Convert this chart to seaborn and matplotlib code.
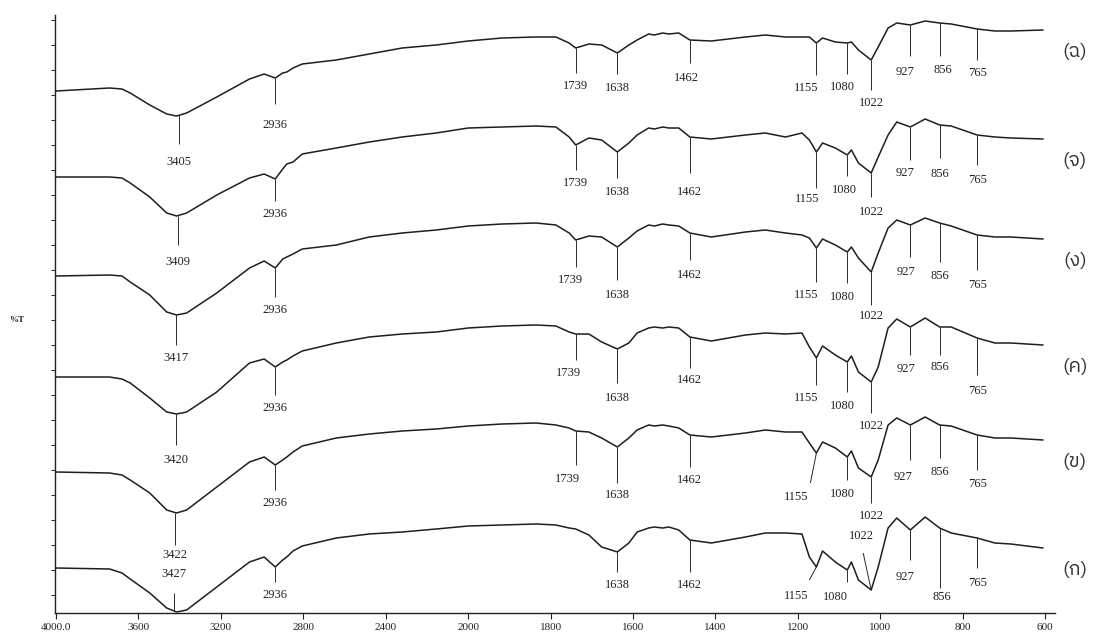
import numpy as np
import pandas as pd
import matplotlib
matplotlib.use("Agg")
import matplotlib.pyplot as plt
import seaborn as sns
from matplotlib import font_manager as fm
from matplotlib.ft2font import FT2Font
from matplotlib.transforms import blended_transform_factory

# ---------------- data ----------------
WAVENUMBER = [4000, 3740, 3680, 3640, 3545, 3463, 3415, 3366, 3220, 3061,
              2990, 2936, 2900, 2880, 2850, 2805, 2640, 2480, 2320, 2155,
              2000, 1918, 1835, 1787, 1755, 1739, 1707, 1676, 1638, 1610,
              1590, 1562, 1548, 1528, 1513, 1489, 1462, 1410, 1327, 1279,
              1230, 1190, 1172, 1155, 1140, 1109, 1080, 1070, 1053, 1022,
              1005, 981, 960, 927, 891, 856, 828, 765, 722, 683, 605]

SAMPLES = ["(ฉ)", "(จ)", "(ง)", "(ค)", "(ข)", "(ก)"]

T_CHO = [522, 525, 524, 520, 508, 499, 497, 500, 516, 534,
         539, 535, 540, 541, 545, 549, 553, 559, 565, 568,
         572, 575, 576, 576, 570, 565, 569, 568, 560, 568,
         573, 579, 578, 580, 579, 580, 573, 572, 576, 578,
         576, 576, 576, 570, 575, 571, 570, 571, 563, 553,
         566, 585, 590, 588, 592, 590, 589, 584, 582, 582, 583]
T_JO = [436, 436, 435, 430, 416, 400, 397, 400, 418, 435,
        439, 434, 444, 449, 451, 459, 465, 471, 476, 480,
        485, 486, 487, 486, 476, 468, 475, 473, 461, 470,
        478, 485, 484, 486, 485, 485, 476, 474, 478, 480,
        476, 480, 473, 461, 470, 465, 458, 463, 450, 440,
        456, 478, 491, 486, 494, 488, 487, 478, 476, 475, 474]
T_NGO = [337, 338, 337, 331, 318, 301, 298, 300, 320, 345,
         352, 345, 354, 356, 359, 364, 368, 376, 380, 383,
         387, 389, 390, 388, 380, 373, 377, 376, 366, 375,
         382, 388, 387, 389, 388, 387, 380, 376, 381, 383,
         380, 378, 375, 365, 374, 368, 361, 366, 355, 341,
         360, 385, 393, 388, 395, 390, 387, 378, 376, 376, 374]
T_KHO2 = [236, 236, 234, 230, 215, 201, 199, 201, 221, 250,
          254, 246, 251, 253, 257, 262, 270, 276, 279, 281,
          285, 287, 288, 287, 281, 279, 279, 271, 264, 270,
          280, 285, 286, 285, 286, 285, 276, 272, 278, 280,
          279, 280, 266, 255, 267, 258, 251, 257, 241, 231,
          246, 285, 294, 286, 295, 286, 286, 275, 270, 270, 268]
T_KHO = [141, 140, 138, 133, 120, 103, 100, 103, 126, 151,
         156, 148, 153, 156, 161, 167, 175, 179, 182, 184,
         187, 189, 190, 188, 185, 182, 181, 175, 166, 175,
         183, 188, 187, 188, 187, 185, 178, 176, 180, 183,
         181, 181, 170, 160, 171, 165, 156, 162, 145, 136,
         153, 188, 195, 188, 196, 188, 187, 178, 175, 175, 173]
T_KO = [45, 44, 40, 34, 20, 5, 1, 3, 26, 51,
        56, 46, 53, 56, 62, 67, 75, 79, 81, 84,
        87, 88, 89, 88, 85, 84, 78, 66, 61, 70,
        81, 85, 86, 85, 86, 83, 73, 70, 76, 80,
        80, 79, 56, 46, 62, 51, 43, 51, 33, 23,
        46, 85, 95, 83, 96, 85, 80, 75, 70, 69, 65]

SERIES = [T_CHO, T_JO, T_NGO, T_KHO2, T_KHO, T_KO]

PEAKS = {
    "(ฉ)": [3405, 2936, 1739, 1638, 1462, 1155, 1080, 1022, 927, 856, 765],
    "(จ)": [3409, 2936, 1739, 1638, 1462, 1155, 1080, 1022, 927, 856, 765],
    "(ง)": [3417, 2936, 1739, 1638, 1462, 1155, 1080, 1022, 927, 856, 765],
    "(ค)": [3420, 2936, 1739, 1638, 1462, 1155, 1080, 1022, 927, 856, 765],
    "(ข)": [3422, 2936, 1739, 1638, 1462, 1155, 1080, 1022, 927, 856, 765],
    "(ก)": [3427, 2936, 1638, 1462, 1155, 1080, 1022, 927, 856, 765],
}

X_TICKS = [4000, 3600, 3200, 2800, 2400, 2000, 1800, 1600, 1400, 1200, 1000, 800, 600]
X_TICK_LABELS = ["4000.0", "3600", "3200", "2800", "2400", "2000", "1800",
                 "1600", "1400", "1200", "1000", "800", "600"]

# ---------------- layout of peak annotations (pixels) ----------------
# (line length, text drop, text dx, line end dx); negative = upwards
ANN_LAYOUT = {
    "(ฉ)": [(29, 47, 0, 0), (26, 47, 0, 0), (25, 38, 0, 0), (21, 35, 0, 0), (23, 38, -3, 0),
            (32, 45, -10, 0), (31, 44, -5, 0), (30, 43, 0, 0), (31, 47, -5, 0), (33, 47, 3, 0), (31, 44, 0, 0)],
    "(จ)": [(29, 46, 0, 0), (22, 35, 0, 0), (25, 38, 0, 0), (26, 40, 0, 0), (36, 55, 0, 0),
            (36, 47, -9, 0), (21, 35, -3, 0), (24, 39, 0, 0), (33, 46, -5, 0), (33, 49, 0, 0), (30, 45, 0, 0)],
    "(ง)": [(30, 43, 0, 0), (29, 42, 0, 0), (27, 40, -5, 0), (33, 48, 0, 0), (27, 42, 0, 0),
            (34, 47, -10, 0), (31, 45, -5, 0), (33, 44, 0, 0), (32, 47, -4, 0), (39, 53, 0, 0), (35, 50, 0, 0)],
    "(ค)": [(31, 46, 0, 0), (28, 41, 0, 0), (26, 39, -7, 0), (34, 49, 0, 0), (31, 43, 0, 0),
            (27, 40, -10, 0), (30, 44, -5, 0), (31, 44, 0, 0), (28, 42, -4, 0), (28, 40, 0, 0), (37, 53, 0, 0)],
    "(ข)": [(32, 42, 0, 0), (25, 38, 0, 0), (34, 48, -8, 0), (36, 48, 0, 0), (32, 45, 0, 0),
            (30, 44, -20, -6), (23, 37, -5, 0), (26, 39, 0, 0), (35, 52, -7, 0), (33, 47, 0, 0), (35, 49, 0, 0)],
    "(ก)": [(-18, -37, 0, 0), (15, 28, 0, 0), (20, 33, 0, 0), (32, 45, 0, 0),
            (13, 29, -20, -7), (12, 27, -12, 0), (-37, -54, -10, -8), (30, 47, -5, 0), (60, 69, 2, 0), (30, 45, 0, 0)],
}

# ---------------- fonts ----------------
def find_font(ch, prefer=("Thai",)):
    hits = []
    for f in fm.fontManager.ttflist:
        try:
            if ord(ch) in FT2Font(f.fname).get_charmap():
                hits.append(f.name)
        except Exception:
            pass
    for p in prefer:
        for h in hits:
            if p in h:
                return h
    return hits[0] if hits else "DejaVu Sans"

sns.set_theme(style="ticks")
plt.rcParams["font.family"] = ["Liberation Serif", "DejaVu Serif"]
THAI_FONT = find_font("ฉ")

# ---------------- figure ----------------
W, H = 1093, 640
fig = plt.figure(figsize=(W / 100, H / 100), dpi=100)
ax_left, ax_bottom, ax_w, ax_h = 55, 27, 1000, 598
ax = fig.add_axes([ax_left / W, ax_bottom / H, ax_w / W, ax_h / H])

frames = []
for name, vals in zip(SAMPLES, SERIES):
    frames.append(pd.DataFrame({"wavenumber": WAVENUMBER, "T": vals, "sample": name}))
df = pd.concat(frames, ignore_index=True)

sns.lineplot(data=df, x="wavenumber", y="T", units="sample", estimator=None,
             color="#1e1e1e", linewidth=1.1, ax=ax, legend=False)


def fwd(w):
    w = np.asarray(w, dtype=float)
    return np.where(w >= 2000, 2000 + (w - 2000) / 2.0, w)


def inv(u):
    u = np.asarray(u, dtype=float)
    return np.where(u >= 2000, 2000 + (u - 2000) * 2.0, u)


XMIN, XMAX = 4005, 576
ax.set_xscale("function", functions=(fwd, inv))
ax.set_xlim(XMIN, XMAX)
ax.set_ylim(0, ax_h)
SCALE = ax_w / float(fwd(XMIN) - fwd(XMAX))  # px per transformed unit


def shift(w, dpx):
    return float(inv(fwd(w) - dpx / SCALE))


ax.set_xticks(X_TICKS)
ax.set_xticklabels(X_TICK_LABELS)
ax.xaxis.set_minor_locator(matplotlib.ticker.NullLocator())
ax.set_yticks(np.arange(18, ax_h, 25))
ax.tick_params(axis="x", direction="out", length=4, width=0.8, labelsize=8, pad=3, colors="#222222")
ax.tick_params(axis="y", direction="out", length=3, width=0.7, labelleft=False, colors="#222222")
ax.set_xlabel("")
ax.set_ylabel("")
for s in ("top", "right"):
    ax.spines[s].set_visible(False)
for s in ("left", "bottom"):
    ax.spines[s].set_linewidth(1.0)
    ax.spines[s].set_color("#222222")

# peak annotations
wn_sorted = np.array(WAVENUMBER[::-1], dtype=float)
for name, vals in zip(SAMPLES, SERIES):
    v_sorted = np.array(vals[::-1], dtype=float)
    for w, (L, T, tdx, ldx) in zip(PEAKS[name], ANN_LAYOUT[name]):
        y0 = float(np.interp(w, wn_sorted, v_sorted))
        ax.plot([w, shift(w, ldx)], [y0, y0 - L], color="#2a2a2a", lw=0.7,
                solid_capstyle="butt", clip_on=False)
        ax.text(shift(w, tdx), y0 - T, str(w), ha="center", va="center",
                fontsize=9, color="#222222", clip_on=False)

# sample labels at right end
trans = blended_transform_factory(ax.transAxes, ax.transData)
for name, vals in zip(SAMPLES, SERIES):
    ax.text((1075 - ax_left) / ax_w, vals[-1] - 22, name, transform=trans,
            ha="center", va="center", fontsize=14, color="#333333",
            family=[THAI_FONT, "DejaVu Sans"], clip_on=False)

fig.text(17 / W, 1 - 320 / H, "%T", ha="center", va="center", fontsize=6.5,
         fontweight="bold", color="#222222")

fig.savefig("out.png", dpi=100)
